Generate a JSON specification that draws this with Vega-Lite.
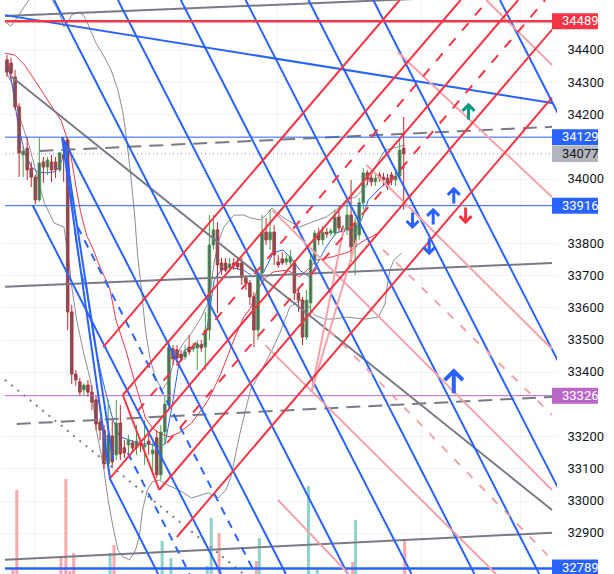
{
"$schema": "https://vega.github.io/schema/vega-lite/v6.json",
"width": 557,
"height": 574,
"autosize": {"type": "none"},
"padding": {"left": 0, "top": 0, "right": 57, "bottom": 0},
"background": "#ffffff",
"config": {"view": {"stroke": null}, "font": "Roboto"},
"datasets": {
"vol": [{"t":2,"v":4,"dir":"d"},{"t":3,"v":84,"dir":"d"},{"t":14.25,"v":17,"dir":"d"},{"t":15.5,"v":95,"dir":"d"},{"t":16.5,"v":3,"dir":"d"},{"t":17.5,"v":21,"dir":"d"},{"t":26.75,"v":21,"dir":"u"},{"t":27.75,"v":29,"dir":"d"},{"t":40,"v":33,"dir":"u"},{"t":42.25,"v":16,"dir":"u"},{"t":51.5,"v":8,"dir":"u"},{"t":52.5,"v":56,"dir":"u"},{"t":54.5,"v":41,"dir":"d"},{"t":64,"v":13,"dir":"d"},{"t":64.75,"v":36,"dir":"u"},{"t":77.25,"v":88,"dir":"u"},{"t":79.5,"v":5,"dir":"u"},{"t":88.5,"v":12,"dir":"d"},{"t":89.25,"v":54,"dir":"u"},{"t":101.75,"v":33,"dir":"d"}],
"candles": [
{"t":0.5,"o":34369,"h":34384,"l":34316,"c":34331},
{"t":1.53,"o":34359,"h":34375,"l":34307,"c":34328},
{"t":2.56,"o":34316,"h":34338,"l":34213,"c":34223},
{"t":3.59,"o":34223,"h":34235,"l":34005,"c":34080},
{"t":4.62,"o":34074,"h":34098,"l":34005,"c":34086},
{"t":5.65,"o":34095,"h":34129,"l":33996,"c":34027},
{"t":6.68,"o":34033,"h":34052,"l":33974,"c":34005},
{"t":7.71,"o":34005,"h":34012,"l":33921,"c":33934},
{"t":8.74,"o":33934,"h":34129,"l":33928,"c":34049},
{"t":9.78,"o":34052,"h":34067,"l":33987,"c":34036},
{"t":10.81,"o":34036,"h":34067,"l":34012,"c":34058},
{"t":11.84,"o":34052,"h":34074,"l":33990,"c":34027},
{"t":12.87,"o":34052,"h":34067,"l":34002,"c":34027},
{"t":13.9,"o":34027,"h":34083,"l":34021,"c":34080},
{"t":14.93,"o":34074,"h":34129,"l":33990,"c":34064},
{"t":15.96,"o":34120,"h":34129,"l":33530,"c":33586},
{"t":16.99,"o":33586,"h":33608,"l":33362,"c":33393},
{"t":18.02,"o":33393,"h":33406,"l":33356,"c":33375},
{"t":19.05,"o":33369,"h":33381,"l":33325,"c":33337},
{"t":20.08,"o":33344,"h":33365,"l":33328,"c":33359},
{"t":21.11,"o":33359,"h":33375,"l":33322,"c":33337},
{"t":22.14,"o":33337,"h":33359,"l":33282,"c":33306},
{"t":23.17,"o":33313,"h":33328,"l":33219,"c":33238},
{"t":24.2,"o":33244,"h":33257,"l":33188,"c":33219},
{"t":25.23,"o":33219,"h":33235,"l":33098,"c":33114},
{"t":26.27,"o":33114,"h":33313,"l":33095,"c":33204},
{"t":27.3,"o":33201,"h":33250,"l":33101,"c":33120},
{"t":28.33,"o":33142,"h":33313,"l":33126,"c":33241},
{"t":29.36,"o":33241,"h":33297,"l":33126,"c":33145},
{"t":30.39,"o":33164,"h":33188,"l":33132,"c":33148},
{"t":31.42,"o":33173,"h":33204,"l":33142,"c":33188},
{"t":32.45,"o":33179,"h":33188,"l":33151,"c":33164},
{"t":33.48,"o":33164,"h":33235,"l":33142,"c":33185},
{"t":34.51,"o":33182,"h":33188,"l":33151,"c":33173},
{"t":35.54,"o":33167,"h":33250,"l":33111,"c":33173},
{"t":36.57,"o":33185,"h":33204,"l":33142,"c":33176},
{"t":37.6,"o":33145,"h":33179,"l":33080,"c":33157},
{"t":38.63,"o":33195,"h":33219,"l":33070,"c":33080},
{"t":39.66,"o":33080,"h":33235,"l":33064,"c":33213},
{"t":40.69,"o":33213,"h":33328,"l":33173,"c":33300},
{"t":41.73,"o":33297,"h":33499,"l":33282,"c":33477},
{"t":42.76,"o":33471,"h":33483,"l":33421,"c":33440},
{"t":43.79,"o":33468,"h":33483,"l":33428,"c":33443},
{"t":44.82,"o":33455,"h":33468,"l":33431,"c":33443},
{"t":45.85,"o":33446,"h":33483,"l":33437,"c":33462},
{"t":46.88,"o":33477,"h":33515,"l":33452,"c":33462},
{"t":47.91,"o":33471,"h":33490,"l":33462,"c":33477},
{"t":48.94,"o":33474,"h":33499,"l":33406,"c":33487},
{"t":49.97,"o":33483,"h":33499,"l":33462,"c":33474},
{"t":51.0,"o":33477,"h":33586,"l":33406,"c":33530},
{"t":52.03,"o":33530,"h":33887,"l":33499,"c":33794},
{"t":53.06,"o":33794,"h":33887,"l":33779,"c":33841},
{"t":54.09,"o":33841,"h":33865,"l":33583,"c":33732},
{"t":55.12,"o":33738,"h":33754,"l":33701,"c":33716},
{"t":56.15,"o":33738,"h":33754,"l":33710,"c":33716},
{"t":57.18,"o":33723,"h":33754,"l":33710,"c":33735},
{"t":58.22,"o":33738,"h":33754,"l":33716,"c":33729},
{"t":59.25,"o":33738,"h":33754,"l":33716,"c":33726},
{"t":60.28,"o":33738,"h":33754,"l":33670,"c":33692},
{"t":61.31,"o":33692,"h":33701,"l":33654,"c":33676},
{"t":62.34,"o":33676,"h":33685,"l":33608,"c":33633},
{"t":63.37,"o":33633,"h":33648,"l":33477,"c":33530},
{"t":64.4,"o":33530,"h":33723,"l":33499,"c":33707},
{"t":65.43,"o":33707,"h":33887,"l":33692,"c":33834},
{"t":66.46,"o":33834,"h":33878,"l":33794,"c":33810},
{"t":67.49,"o":33810,"h":33903,"l":33779,"c":33834},
{"t":68.52,"o":33834,"h":33856,"l":33732,"c":33763},
{"t":69.55,"o":33741,"h":33763,"l":33723,"c":33732},
{"t":70.58,"o":33751,"h":33772,"l":33732,"c":33738},
{"t":71.61,"o":33741,"h":33763,"l":33732,"c":33751},
{"t":72.64,"o":33741,"h":33779,"l":33732,"c":33757},
{"t":73.67,"o":33738,"h":33747,"l":33623,"c":33645},
{"t":74.71,"o":33645,"h":33661,"l":33586,"c":33623},
{"t":75.74,"o":33623,"h":33633,"l":33483,"c":33508},
{"t":76.77,"o":33508,"h":33654,"l":33499,"c":33623},
{"t":77.8,"o":33614,"h":33763,"l":33577,"c":33747},
{"t":78.83,"o":33747,"h":33841,"l":33732,"c":33831},
{"t":79.86,"o":33831,"h":33847,"l":33794,"c":33810},
{"t":80.89,"o":33810,"h":33853,"l":33794,"c":33834},
{"t":81.92,"o":33834,"h":33847,"l":33816,"c":33828},
{"t":82.95,"o":33831,"h":33847,"l":33822,"c":33838},
{"t":83.98,"o":33831,"h":33903,"l":33822,"c":33881},
{"t":85.01,"o":33881,"h":33918,"l":33834,"c":33847},
{"t":86.04,"o":33847,"h":33856,"l":33822,"c":33834},
{"t":87.07,"o":33841,"h":33928,"l":33825,"c":33887},
{"t":88.1,"o":33887,"h":33996,"l":33741,"c":33788},
{"t":89.13,"o":33788,"h":33878,"l":33701,"c":33862},
{"t":90.16,"o":33825,"h":33940,"l":33810,"c":33925},
{"t":91.2,"o":33925,"h":34033,"l":33903,"c":34018},
{"t":92.23,"o":34018,"h":34027,"l":33980,"c":33999},
{"t":93.26,"o":34002,"h":34012,"l":33977,"c":33990},
{"t":94.29,"o":33990,"h":34015,"l":33977,"c":34002},
{"t":95.32,"o":34012,"h":34021,"l":33990,"c":34002},
{"t":96.35,"o":34005,"h":34018,"l":33977,"c":33996},
{"t":97.38,"o":34002,"h":34015,"l":33965,"c":33974},
{"t":98.41,"o":34012,"h":34021,"l":33980,"c":33996},
{"t":99.44,"o":33996,"h":34021,"l":33977,"c":34008},
{"t":100.47,"o":34008,"h":34120,"l":33996,"c":34089},
{"t":101.5,"o":34095,"h":34192,"l":33903,"c":34077}
],
"lines": [
{"id":"B1","g":"b","t":12.5,"p":34555},{"id":"B1","g":"b","t":87.25,"p":32772},
{"id":"B2","g":"b","t":28.75,"p":34555},{"id":"B2","g":"b","t":103.5,"p":32772},
{"id":"B3","g":"b","t":44.75,"p":34555},{"id":"B3","g":"b","t":119.5,"p":32772},
{"id":"B4","g":"b","t":61.25,"p":34555},{"id":"B4","g":"b","t":136,"p":32772},
{"id":"B5","g":"b","t":77.25,"p":34555},{"id":"B5","g":"b","t":152,"p":32772},
{"id":"B6","g":"b","t":93.75,"p":34555},{"id":"B6","g":"b","t":168.5,"p":32772},
{"id":"B7","g":"b","t":126,"p":34555},{"id":"B7","g":"b","t":200.75,"p":32772},
{"id":"B8","g":"b","t":15,"p":34120},{"id":"B8","g":"b","t":71.5,"p":32772},
{"id":"B9","g":"b","t":7,"p":33918},{"id":"B9","g":"b","t":55,"p":32772},
{"id":"B10","g":"b","t":26.75,"p":33067},{"id":"B10","g":"b","t":39,"p":32772},
{"id":"S1","g":"b","t":14.5,"p":34129},{"id":"S1","g":"b","t":26.75,"p":33067},
{"id":"S2","g":"b","t":15,"p":34120},{"id":"S2","g":"b","t":27.5,"p":33126},
{"id":"BL","g":"b","t":0,"p":34508},{"id":"BL","g":"b","t":139.25,"p":34235},
{"id":"D1","g":"bd","t":18.5,"p":33850},{"id":"D1","g":"bd","t":63.75,"p":32772},
{"id":"D2","g":"bd","t":31.25,"p":33148},{"id":"D2","g":"bd","t":47,"p":32772},
{"id":"Ra","g":"r","t":25,"p":33477},{"id":"Ra","g":"r","t":100.5,"p":34555},
{"id":"Rg","g":"r","t":30,"p":33328},{"id":"Rg","g":"r","t":116,"p":34555},
{"id":"Rf","g":"r","t":26.75,"p":33070},{"id":"Rf","g":"r","t":130.65,"p":34555},
{"id":"Rd","g":"r","t":39.25,"p":33033},{"id":"Rd","g":"r","t":139.25,"p":34463},
{"id":"Re","g":"r","t":43.75,"p":32887},{"id":"Re","g":"r","t":139.25,"p":34252},
{"id":"Rx","g":"r","t":30,"p":33328},{"id":"Rx","g":"r","t":39.25,"p":33033},
{"id":"Q1","g":"rd","t":33.75,"p":33278},{"id":"Q1","g":"rd","t":123,"p":34555},
{"id":"Q2","g":"rd","t":41.25,"p":33179},{"id":"Q2","g":"rd","t":137.5,"p":34555},
{"id":"G1","g":"gy","t":0,"p":34505},{"id":"G1","g":"gy","t":139.25,"p":34576},
{"id":"G3","g":"gy","t":1.75,"p":34316},{"id":"G3","g":"gy","t":139.25,"p":32971},
{"id":"G4","g":"gy","t":0,"p":33664},{"id":"G4","g":"gy","t":139.25,"p":33738},
{"id":"G6","g":"gy","t":0,"p":32816},{"id":"G6","g":"gy","t":139.25,"p":32900},
{"id":"G2","g":"gyd","t":8.75,"p":34086},{"id":"G2","g":"gyd","t":139.25,"p":34161},
{"id":"G5","g":"gyd","t":3,"p":33238},{"id":"G5","g":"gyd","t":139.25,"p":33322},
{"id":"G7","g":"gyo","t":0,"p":33375},{"id":"G7","g":"gyo","t":60.75,"p":32772},
{"id":"P1","g":"pk","t":100,"p":34393},{"id":"P1","g":"pk","t":139.25,"p":33943},
{"id":"P2","g":"pk","t":122.5,"p":34555},{"id":"P2","g":"pk","t":139.25,"p":34353},
{"id":"P3","g":"pk","t":92,"p":34043},{"id":"P3","g":"pk","t":139.25,"p":33471},
{"id":"P4","g":"pk","t":68,"p":33903},{"id":"P4","g":"pk","t":139.25,"p":33033},
{"id":"P5","g":"pk","t":66.25,"p":33483},{"id":"P5","g":"pk","t":125,"p":32772},
{"id":"P6","g":"pk","t":69.5,"p":33002},{"id":"P6","g":"pk","t":87.5,"p":32772},
{"id":"SP1","g":"pk","t":78,"p":33337},{"id":"SP1","g":"pk","t":86.25,"p":33847},
{"id":"SP2","g":"pk","t":78,"p":33337},{"id":"SP2","g":"pk","t":89.5,"p":33810},
{"id":"PD1","g":"pkd","t":96.25,"p":33779},{"id":"PD1","g":"pkd","t":139.25,"p":33266},
{"id":"PD2","g":"pkd","t":82.5,"p":33530},{"id":"PD2","g":"pkd","t":139.25,"p":32816},
{"id":"H1","g":"hr","t":0,"p":34489},{"id":"H1","g":"hr","t":139.25,"p":34489},
{"id":"H2","g":"hb","t":0,"p":34129},{"id":"H2","g":"hb","t":139.25,"p":34129},
{"id":"H4","g":"hb","t":0,"p":33916},{"id":"H4","g":"hb","t":139.25,"p":33916},
{"id":"H3","g":"hgo","t":0,"p":34077},{"id":"H3","g":"hgo","t":139.25,"p":34077},
{"id":"H5","g":"hp","t":0,"p":33326},{"id":"H5","g":"hp","t":139.25,"p":33326},
{"id":"H6","g":"hbb","t":0,"p":32789},{"id":"H6","g":"hbb","t":139.25,"p":32789}
],
"curves": [
{"id":"bbU","t":0,"p":34487},{"id":"bbU","t":1.5,"p":34474},{"id":"bbU","t":3,"p":34499},{"id":"bbU","t":5,"p":34536},{"id":"bbU","t":7.5,"p":34580},{"id":"bbU","t":11.25,"p":34571},{"id":"bbU","t":13.75,"p":34518},{"id":"bbU","t":15,"p":34471},{"id":"bbU","t":16,"p":34487},{"id":"bbU","t":17,"p":34508},{"id":"bbU","t":18.75,"p":34518},{"id":"bbU","t":20,"p":34508},{"id":"bbU","t":21.25,"p":34477},{"id":"bbU","t":23,"p":34425},{"id":"bbU","t":25,"p":34384},{"id":"bbU","t":27,"p":34338},{"id":"bbU","t":28.75,"p":34275},{"id":"bbU","t":30,"p":34207},{"id":"bbU","t":31,"p":34120},{"id":"bbU","t":32,"p":34012},{"id":"bbU","t":33,"p":33887},{"id":"bbU","t":33.75,"p":33763},{"id":"bbU","t":34.75,"p":33654},{"id":"bbU","t":35.75,"p":33530},{"id":"bbU","t":37,"p":33437},{"id":"bbU","t":38.25,"p":33384},{"id":"bbU","t":40,"p":33344},{"id":"bbU","t":41.75,"p":33375},{"id":"bbU","t":43.25,"p":33446},{"id":"bbU","t":45.5,"p":33490},{"id":"bbU","t":47.5,"p":33521},{"id":"bbU","t":50,"p":33570},{"id":"bbU","t":52,"p":33623},{"id":"bbU","t":53.25,"p":33741},{"id":"bbU","t":54.5,"p":33810},{"id":"bbU","t":55.75,"p":33850},{"id":"bbU","t":58.25,"p":33887},{"id":"bbU","t":60.75,"p":33887},{"id":"bbU","t":62.5,"p":33878},{"id":"bbU","t":65,"p":33872},{"id":"bbU","t":66.5,"p":33887},{"id":"bbU","t":68,"p":33909},{"id":"bbU","t":70,"p":33887},{"id":"bbU","t":71.75,"p":33872},{"id":"bbU","t":75,"p":33850},{"id":"bbU","t":77.5,"p":33862},{"id":"bbU","t":81.75,"p":33881},{"id":"bbU","t":85,"p":33909},{"id":"bbU","t":86.75,"p":33934},{"id":"bbU","t":89.25,"p":33943},{"id":"bbU","t":91.75,"p":33974},{"id":"bbU","t":94.25,"p":34036},{"id":"bbU","t":96.75,"p":34089},{"id":"bbU","t":100,"p":34098},{"id":"bbU","t":101.75,"p":34105},
{"id":"bbL","t":0,"p":34338},{"id":"bbL","t":1.75,"p":34297},{"id":"bbL","t":3.75,"p":34192},{"id":"bbL","t":6.25,"p":34098},{"id":"bbL","t":8.25,"p":34005},{"id":"bbL","t":10,"p":33925},{"id":"bbL","t":12.5,"p":33862},{"id":"bbL","t":15,"p":33850},{"id":"bbL","t":16.25,"p":33747},{"id":"bbL","t":17,"p":33664},{"id":"bbL","t":18.25,"p":33561},{"id":"bbL","t":20,"p":33459},{"id":"bbL","t":21.75,"p":33375},{"id":"bbL","t":23.25,"p":33219},{"id":"bbL","t":25,"p":33111},{"id":"bbL","t":26.25,"p":33002},{"id":"bbL","t":27.5,"p":32918},{"id":"bbL","t":28.75,"p":32847},{"id":"bbL","t":30,"p":32825},{"id":"bbL","t":31.75,"p":32816},{"id":"bbL","t":33.25,"p":32847},{"id":"bbL","t":34.25,"p":32893},{"id":"bbL","t":35,"p":32971},{"id":"bbL","t":36.25,"p":33033},{"id":"bbL","t":37.5,"p":33058},{"id":"bbL","t":39.25,"p":33064},{"id":"bbL","t":41.25,"p":33049},{"id":"bbL","t":44.25,"p":33033},{"id":"bbL","t":47.5,"p":33008},{"id":"bbL","t":51.75,"p":33024},{"id":"bbL","t":54.25,"p":33008},{"id":"bbL","t":56.25,"p":33033},{"id":"bbL","t":57.5,"p":33073},{"id":"bbL","t":60,"p":33219},{"id":"bbL","t":62.5,"p":33344},{"id":"bbL","t":65.75,"p":33415},{"id":"bbL","t":68,"p":33468},{"id":"bbL","t":70,"p":33521},{"id":"bbL","t":72.5,"p":33601},{"id":"bbL","t":75,"p":33623},{"id":"bbL","t":76.75,"p":33614},{"id":"bbL","t":78.75,"p":33577},{"id":"bbL","t":81.25,"p":33564},{"id":"bbL","t":83.5,"p":33564},{"id":"bbL","t":86.75,"p":33570},{"id":"bbL","t":91.75,"p":33564},{"id":"bbL","t":95,"p":33570},{"id":"bbL","t":96.75,"p":33611},{"id":"bbL","t":97.25,"p":33664},{"id":"bbL","t":98,"p":33716},{"id":"bbL","t":99,"p":33747},{"id":"bbL","t":101,"p":33769},
{"id":"maR","t":0,"p":34390},{"id":"maR","t":2.5,"p":34384},{"id":"maR","t":5,"p":34353},{"id":"maR","t":7.5,"p":34307},{"id":"maR","t":10,"p":34260},{"id":"maR","t":12.5,"p":34213},{"id":"maR","t":14.25,"p":34182},{"id":"maR","t":15.5,"p":34136},{"id":"maR","t":16.75,"p":34074},{"id":"maR","t":18,"p":33980},{"id":"maR","t":19.25,"p":33897},{"id":"maR","t":20.75,"p":33825},{"id":"maR","t":22.5,"p":33779},{"id":"maR","t":24.25,"p":33723},{"id":"maR","t":25.75,"p":33685},{"id":"maR","t":26.75,"p":33654},{"id":"maR","t":28.25,"p":33561},{"id":"maR","t":30.75,"p":33468},{"id":"maR","t":33.25,"p":33359},{"id":"maR","t":35.75,"p":33257},{"id":"maR","t":37.5,"p":33226},{"id":"maR","t":39.25,"p":33210},{"id":"maR","t":41.75,"p":33198},{"id":"maR","t":44.25,"p":33210},{"id":"maR","t":47.5,"p":33241},{"id":"maR","t":50,"p":33282},{"id":"maR","t":51.75,"p":33313},{"id":"maR","t":53.25,"p":33350},{"id":"maR","t":55,"p":33396},{"id":"maR","t":58.25,"p":33499},{"id":"maR","t":60.75,"p":33570},{"id":"maR","t":62.5,"p":33598},{"id":"maR","t":64.25,"p":33654},{"id":"maR","t":66.25,"p":33692},{"id":"maR","t":68.25,"p":33710},{"id":"maR","t":71.75,"p":33716},{"id":"maR","t":75,"p":33695},{"id":"maR","t":77.5,"p":33723},{"id":"maR","t":79.25,"p":33747},{"id":"maR","t":83.25,"p":33757},{"id":"maR","t":87.5,"p":33772},{"id":"maR","t":90,"p":33797},{"id":"maR","t":91.75,"p":33810},{"id":"maR","t":95,"p":33831},
{"id":"maB","t":0,"p":34359},{"id":"maB","t":0.75,"p":34353},{"id":"maB","t":1.75,"p":34297},{"id":"maB","t":2.5,"p":34235},{"id":"maB","t":3.25,"p":34173},{"id":"maB","t":4.25,"p":34120},{"id":"maB","t":5,"p":34080},{"id":"maB","t":6.75,"p":34036},{"id":"maB","t":8.25,"p":34021},{"id":"maB","t":10.75,"p":34018},{"id":"maB","t":12.5,"p":34021},{"id":"maB","t":13.75,"p":34036},{"id":"maB","t":14.5,"p":34058},{"id":"maB","t":15.5,"p":34089},{"id":"maB","t":16.25,"p":34043},{"id":"maB","t":17,"p":33934},{"id":"maB","t":18,"p":33810},{"id":"maB","t":19.25,"p":33716},{"id":"maB","t":20.75,"p":33654},{"id":"maB","t":22.5,"p":33508},{"id":"maB","t":24.25,"p":33406},{"id":"maB","t":25.75,"p":33331},{"id":"maB","t":27.5,"p":33250},{"id":"maB","t":29.25,"p":33198},{"id":"maB","t":31.75,"p":33188},{"id":"maB","t":34.25,"p":33176},{"id":"maB","t":36.75,"p":33176},{"id":"maB","t":39.25,"p":33167},{"id":"maB","t":40.75,"p":33176},{"id":"maB","t":42.5,"p":33291},{"id":"maB","t":44.25,"p":33424},{"id":"maB","t":45.75,"p":33468},{"id":"maB","t":48.25,"p":33477},{"id":"maB","t":50.75,"p":33487},{"id":"maB","t":51.75,"p":33561},{"id":"maB","t":53.25,"p":33685},{"id":"maB","t":55,"p":33716},{"id":"maB","t":56.75,"p":33726},{"id":"maB","t":60.75,"p":33716},{"id":"maB","t":63.25,"p":33695},{"id":"maB","t":65.75,"p":33707},{"id":"maB","t":68.25,"p":33769},{"id":"maB","t":70.75,"p":33779},{"id":"maB","t":73.25,"p":33747},{"id":"maB","t":75,"p":33716},{"id":"maB","t":77.5,"p":33695},{"id":"maB","t":80,"p":33747},{"id":"maB","t":81.75,"p":33788},{"id":"maB","t":84.25,"p":33831},{"id":"maB","t":86.75,"p":33841},{"id":"maB","t":89.25,"p":33841},{"id":"maB","t":90.75,"p":33872},{"id":"maB","t":92.5,"p":33934},{"id":"maB","t":95.75,"p":33974},{"id":"maB","t":98.25,"p":33996},{"id":"maB","t":100.75,"p":34027},{"id":"maB","t":101.75,"p":34036}
],
"lbl": [
{"t":139.25,"p":34489,"label":"34489","kind":"red"},
{"t":139.25,"p":34129,"label":"34129","kind":"blue"},
{"t":139.25,"p":34077,"label":"34077","kind":"gray"},
{"t":139.25,"p":33916,"label":"33916","kind":"blue"},
{"t":139.25,"p":33326,"label":"33326","kind":"purple"},
{"t":139.25,"p":32792,"label":"32789","kind":"blue"}
],
"arr": [
{"t":118,"p":34207,"dir":"up","col":"green","sz":"s"},
{"t":114.25,"p":33946,"dir":"up","col":"blue","sz":"s"},
{"t":109,"p":33881,"dir":"up","col":"blue","sz":"s"},
{"t":114.25,"p":33369,"dir":"up","col":"blue","sz":"l"},
{"t":103.75,"p":33872,"dir":"down","col":"blue","sz":"s"},
{"t":108,"p":33791,"dir":"down","col":"blue","sz":"s"},
{"t":117.25,"p":33887,"dir":"down","col":"red","sz":"s"}
]
},
"resolve": {"scale": {"y": "independent"}},
"layer": [
{
"data": {"name": "vol"},
"mark": {"type": "bar", "width": 3, "clip": true},
"encoding": {
"x": {"field": "t", "type": "quantitative", "scale": {"domain": [0, 139.25], "nice": false, "zero": false}, "axis": {"values": [7.5, 44.5, 69.25, 106, 131], "labels": false, "ticks": false, "domain": false, "grid": true, "gridColor": "#f0f3fa", "title": null}},
"y": {"field": "v", "type": "quantitative", "scale": {"domain": [0, 574], "nice": false}, "axis": null},
"color": {"condition": {"test": "datum.dir === 'u'", "value": "#8fd2c7"}, "value": "#f6a8ac"}
}
},
{
"encoding": {
"x": {"field": "t", "type": "quantitative", "scale": {"domain": [0, 139.25], "nice": false, "zero": false}, "axis": {"values": [7.5, 44.5, 69.25, 106, 131], "labels": false, "ticks": false, "domain": false, "grid": true, "gridColor": "#f0f3fa", "title": null}},
"y": {"field": "p", "type": "quantitative", "scale": {"domain": [32772, 34555], "nice": false, "zero": false}, "axis": {"orient": "right", "values": [32900, 33000, 33100, 33200, 33400, 33500, 33600, 33700, 33800, 34000, 34200, 34300, 34400], "format": "d", "grid": true, "gridColor": "#f0f3fa", "domain": false, "ticks": false, "labelPadding": 10, "labelFontSize": 13, "labelColor": "#131722", "labelFont": "Roboto", "labelOverlap": false, "labelAlign": "left", "labelBaseline": "middle", "title": null}}
},
"layer": [
{
"data": {"name": "curves"},
"transform": [{"filter": "datum.id === 'bbU' || datum.id === 'bbL'"}],
"mark": {"type": "line", "color": "#8a8d96", "strokeWidth": 1, "clip": true},
"encoding": {"detail": {"field": "id"}}
},
{
"data": {"name": "curves"},
"transform": [{"filter": "datum.id === 'maR'"}],
"mark": {"type": "line", "color": "#f23645", "strokeWidth": 1, "clip": true},
"encoding": {"detail": {"field": "id"}}
},
{
"data": {"name": "curves"},
"transform": [{"filter": "datum.id === 'maB'"}],
"mark": {"type": "line", "color": "#2962ff", "strokeWidth": 1, "clip": true},
"encoding": {"detail": {"field": "id"}}
},
{
"data": {"name": "candles"},
"mark": {"type": "rule", "strokeWidth": 1, "clip": true},
"encoding": {
"y": {"field": "l", "type": "quantitative", "scale": {"domain": [32772, 34555], "nice": false, "zero": false}, "axis": {"orient": "right", "values": [32900, 33000, 33100, 33200, 33400, 33500, 33600, 33700, 33800, 34000, 34200, 34300, 34400], "format": "d", "grid": true, "gridColor": "#f0f3fa", "domain": false, "ticks": false, "labelPadding": 10, "labelFontSize": 13, "labelColor": "#131722", "labelFont": "Roboto", "labelOverlap": false, "labelAlign": "left", "labelBaseline": "middle", "title": null}},
"y2": {"field": "h"},
"color": {"condition": {"test": "datum.c >= datum.o", "value": "#43a047"}, "value": "#c62828"}
}
},
{
"data": {"name": "candles"},
"mark": {"type": "bar", "width": 2.6, "fill": "#5d606b", "strokeWidth": 0.9, "clip": true},
"encoding": {
"y": {"field": "o", "type": "quantitative", "scale": {"domain": [32772, 34555], "nice": false, "zero": false}, "axis": {"orient": "right", "values": [32900, 33000, 33100, 33200, 33400, 33500, 33600, 33700, 33800, 34000, 34200, 34300, 34400], "format": "d", "grid": true, "gridColor": "#f0f3fa", "domain": false, "ticks": false, "labelPadding": 10, "labelFontSize": 13, "labelColor": "#131722", "labelFont": "Roboto", "labelOverlap": false, "labelAlign": "left", "labelBaseline": "middle", "title": null}},
"y2": {"field": "c"},
"stroke": {"condition": {"test": "datum.c >= datum.o", "value": "#43a047"}, "value": "#c62828"}
}
},
{
"data": {"name": "lines"},
"transform": [{"filter": "datum.g === 'gy'"}],
"mark": {"type": "line", "color": "#787b86", "strokeWidth": 2, "clip": true},
"encoding": {"detail": {"field": "id"}}
},
{
"data": {"name": "lines"},
"transform": [{"filter": "datum.g === 'gyd'"}],
"mark": {"type": "line", "color": "#787b86", "strokeWidth": 2, "strokeDash": [14, 8], "clip": true},
"encoding": {"detail": {"field": "id"}}
},
{
"data": {"name": "lines"},
"transform": [{"filter": "datum.g === 'gyo'"}],
"mark": {"type": "line", "color": "#787b86", "strokeWidth": 2, "strokeDash": [2, 6], "clip": true},
"encoding": {"detail": {"field": "id"}}
},
{
"data": {"name": "lines"},
"transform": [{"filter": "datum.g === 'hgo'"}],
"mark": {"type": "line", "color": "#8a8d96", "strokeWidth": 1, "strokeDash": [1, 3], "clip": true},
"encoding": {"detail": {"field": "id"}}
},
{
"data": {"name": "lines"},
"transform": [{"filter": "datum.g === 'hb'"}],
"mark": {"type": "line", "color": "#2962ff", "strokeWidth": 1, "clip": true},
"encoding": {"detail": {"field": "id"}}
},
{
"data": {"name": "lines"},
"transform": [{"filter": "datum.g === 'hp'"}],
"mark": {"type": "line", "color": "#ba68c8", "strokeWidth": 1, "clip": true},
"encoding": {"detail": {"field": "id"}}
},
{
"data": {"name": "lines"},
"transform": [{"filter": "datum.g === 'hbb'"}],
"mark": {"type": "line", "color": "#2962ff", "strokeWidth": 2.5, "clip": true},
"encoding": {"detail": {"field": "id"}}
},
{
"data": {"name": "lines"},
"transform": [{"filter": "datum.g === 'b'"}],
"mark": {"type": "line", "color": "#2962ff", "strokeWidth": 2, "clip": true},
"encoding": {"detail": {"field": "id"}}
},
{
"data": {"name": "lines"},
"transform": [{"filter": "datum.g === 'bd'"}],
"mark": {"type": "line", "color": "#2962ff", "strokeWidth": 2, "strokeDash": [8, 7], "clip": true},
"encoding": {"detail": {"field": "id"}}
},
{
"data": {"name": "lines"},
"transform": [{"filter": "datum.g === 'pk'"}],
"mark": {"type": "line", "color": "#f5a3a8", "strokeWidth": 2, "clip": true},
"encoding": {"detail": {"field": "id"}}
},
{
"data": {"name": "lines"},
"transform": [{"filter": "datum.g === 'pkd'"}],
"mark": {"type": "line", "color": "#f5a3a8", "strokeWidth": 2, "strokeDash": [8, 10], "clip": true},
"encoding": {"detail": {"field": "id"}}
},
{
"data": {"name": "lines"},
"transform": [{"filter": "datum.g === 'r'"}],
"mark": {"type": "line", "color": "#f23645", "strokeWidth": 2, "clip": true},
"encoding": {"detail": {"field": "id"}}
},
{
"data": {"name": "lines"},
"transform": [{"filter": "datum.g === 'rd'"}],
"mark": {"type": "line", "color": "#f23645", "strokeWidth": 2, "strokeDash": [10, 10], "clip": true},
"encoding": {"detail": {"field": "id"}}
},
{
"data": {"name": "lines"},
"transform": [{"filter": "datum.g === 'hr'"}],
"mark": {"type": "line", "color": "#f23645", "strokeWidth": 2.5, "clip": true},
"encoding": {"detail": {"field": "id"}}
},
{
"data": {"name": "arr"},
"transform": [{"filter": "datum.dir === 'up' && datum.sz === 's'"}],
"mark": {"type": "point", "shape": "M-0.8,-0.15L0,-0.95L0.8,-0.15M0,-0.95V1", "filled": false, "size": 225, "strokeWidth": 3, "opacity": 1},
"encoding": {
"stroke": {"condition": [{"test": "datum.col === 'green'", "value": "#089981"}, {"test": "datum.col === 'red'", "value": "#f23645"}], "value": "#2962ff"}
}
},
{
"data": {"name": "arr"},
"transform": [{"filter": "datum.dir === 'down'"}],
"mark": {"type": "point", "shape": "M-0.8,0.15L0,0.95L0.8,0.15M0,0.95V-1", "filled": false, "size": 225, "strokeWidth": 3, "opacity": 1},
"encoding": {
"stroke": {"condition": [{"test": "datum.col === 'green'", "value": "#089981"}, {"test": "datum.col === 'red'", "value": "#f23645"}], "value": "#2962ff"}
}
},
{
"data": {"name": "arr"},
"transform": [{"filter": "datum.sz === 'l'"}],
"mark": {"type": "point", "shape": "M-0.8,-0.15L0,-0.95L0.8,-0.15M0,-0.95V1", "filled": false, "size": 520, "strokeWidth": 4, "opacity": 1},
"encoding": {"stroke": {"value": "#2962ff"}}
},
{
"data": {"name": "lbl"},
"mark": {"type": "point", "shape": "M0,-1H5.75V1H0Z", "filled": true, "size": 256, "strokeWidth": 0, "opacity": 1},
"encoding": {
"fill": {"condition": [{"test": "datum.kind === 'red'", "value": "#f23645"}, {"test": "datum.kind === 'gray'", "value": "#b2b5be"}, {"test": "datum.kind === 'purple'", "value": "#ba68c8"}], "value": "#2962ff"}
}
},
{
"data": {"name": "lbl"},
"mark": {"type": "text", "dx": 10, "align": "left", "baseline": "middle", "fontSize": 13, "font": "Roboto"},
"encoding": {
"text": {"field": "label"},
"color": {"condition": {"test": "datum.kind === 'gray'", "value": "#131722"}, "value": "#ffffff"}
}
}
]
}
]
}
